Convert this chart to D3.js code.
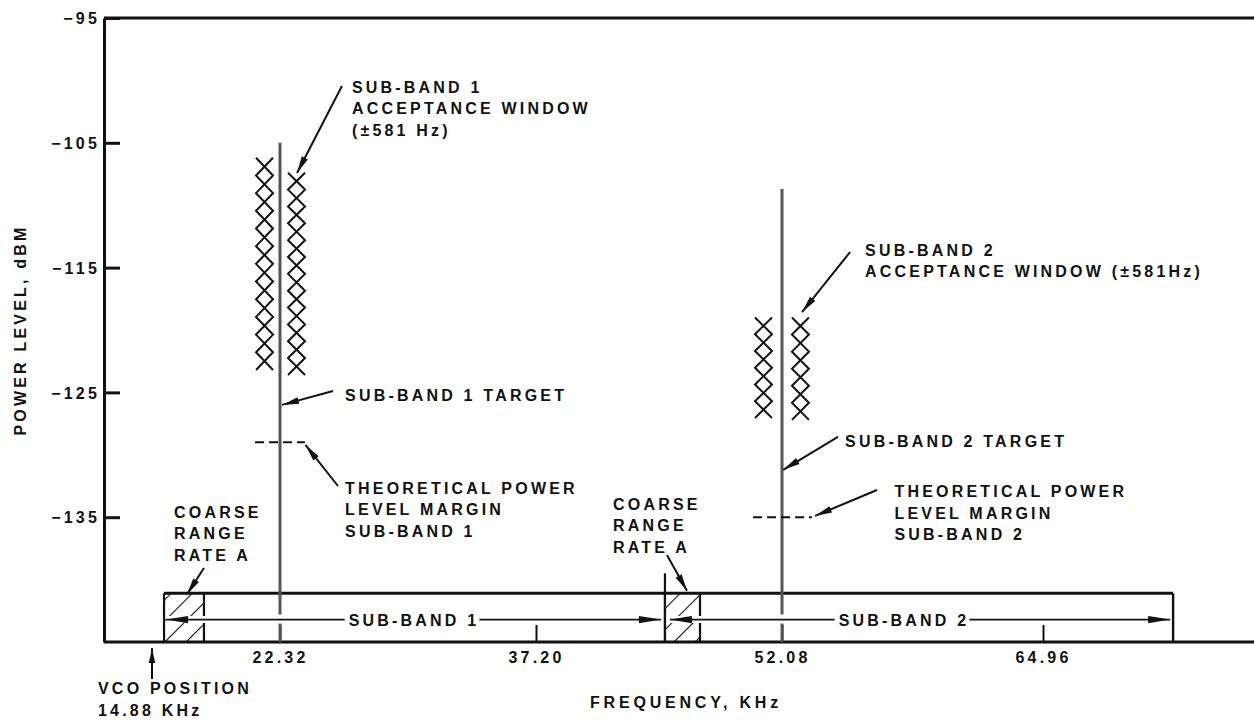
<!DOCTYPE html>
<html>
<head>
<meta charset="utf-8">
<script src="https://cdn.jsdelivr.net/npm/d3@7"></script>
<style>
  html, body { margin: 0; padding: 0; background: #fff; }
  text {
    font-family: "Liberation Sans", Arial, Helvetica, sans-serif;
    font-weight: bold;
    font-size: 16px;
    letter-spacing: 3.2px;
    fill: #111;
  }
</style>
</head>
<body>
<svg id="chart" width="1254" height="720"></svg>
<script>
// ---- Axis ticks ----
const freqTicks = [22.32, 37.20, 52.08, 64.96];     // KHz
const powerTicks = [-95, -105, -115, -125, -135];   // dBM
const vcoFreq = 14.88;

// ---- Sub-band strip along the frequency axis ----
const bandNames = ["SUB-BAND 1", "SUB-BAND 2"];
const bandStart = [15.58, 45.00];
const bandEnd = [45.00, 71.38];
const bandLabelAt = [30.11, 58.10];
const bandTop = -141.1;
const bandArrowLevel = -143.2;
const boundaryTop = -139.5;

// Coarse range rate A windows
const coarseStart = [15.58, 45.00];
const coarseEnd = [17.90, 47.12];

// ---- Carriers ----
const carrierFreq = [22.32, 52.08];
const carrierPeak = [-105.0, -108.7];
const targetLevel = [-126.0, -131.2];
const marginLevel = [-129.0, -135.0];
const marginLo = [20.87, 50.33];
const marginHi = [23.77, 53.56];

// Acceptance window (±581 Hz) columns, per sub-band: [left, right]
const windowFreq = [[21.42, 23.28], [50.96, 52.99]];
const windowTop = [[-106.2, -107.4], [-119.0, -119.0]];
const windowBottom = [[-123.2, -123.6], [-127.05, -127.2]];

// ---- Callouts: text lines, text anchor, arrow tail, arrow head (KHz, dBM) ----
const noteText = [
  ["SUB-BAND 1", "ACCEPTANCE WINDOW", "(\u00B1581 Hz)"],
  ["SUB-BAND 1 TARGET"],
  ["THEORETICAL POWER", "LEVEL MARGIN", "SUB-BAND 1"],
  ["SUB-BAND 2", "ACCEPTANCE WINDOW (\u00B1581Hz)"],
  ["SUB-BAND 2 TARGET"],
  ["THEORETICAL POWER", "LEVEL MARGIN", "SUB-BAND 2"],
  ["COARSE", "RANGE", "RATE A"],
  ["COARSE", "RANGE", "RATE A"]
];
const noteAt = [[26.50, -101.0], [26.10, -125.69], [26.10, -133.14], [56.18, -114.07],
                [55.19, -129.37], [57.63, -133.40], [16.16, -135.06], [41.86, -134.42]];
const noteTail = [[25.92, -100.45], [25.40, -124.89], [25.69, -132.50], [55.44, -113.75],
                  [54.84, -128.57], [56.77, -132.82], [17.90, -139.07], [45.12, -138.03]];
const noteHead = [[23.31, -107.42], [22.44, -126.0], [23.80, -129.21], [53.07, -118.56],
                  [52.14, -131.2], [53.71, -134.9], [16.91, -141.2], [46.33, -140.9]];

const axisTitleX = "FREQUENCY, KHz";
const axisTitleY = "POWER LEVEL, dBM";
const vcoText = ["VCO POSITION", "14.88 KHz"];

// ---- Layout ----
const W = 1254, H = 720;
const plot = { left: 104, right: 1254, top: 18, bottom: 642 };
const ink = "#111";

// Schematic frequency axis: piecewise-linear spacing between the marked frequencies
const x = d3.scaleLinear()
  .domain([vcoFreq, ...freqTicks])
  .range([152, 280, 536, 782, 1043]);
const y = d3.scaleLinear().domain([-145, -95]).range([plot.bottom, plot.top]);

const svg = d3.select("#chart");

// hatch pattern for the coarse windows
const defs = svg.append("defs");
defs.append("pattern")
  .attr("id", "hatch")
  .attr("patternUnits", "userSpaceOnUse")
  .attr("width", 15).attr("height", 15)
  .attr("patternTransform", "rotate(45)")
  .append("line")
  .attr("x1", 0).attr("y1", 0).attr("x2", 0).attr("y2", 15)
  .attr("stroke", ink).attr("stroke-width", 2.2);

function arrowHead(g, x1, y1, x2, y2, len = 15, hw = 3.4) {
  const a = Math.atan2(y2 - y1, x2 - x1);
  const bx = x2 - len * Math.cos(a), by = y2 - len * Math.sin(a);
  const px = -Math.sin(a) * hw, py = Math.cos(a) * hw;
  g.append("path")
    .attr("d", `M${x2},${y2}L${bx + px},${by + py}L${bx - px},${by - py}Z`)
    .attr("fill", ink);
}

// ---- Frame: top rule, left axis, baseline ----
svg.append("line")
  .attr("x1", plot.left).attr("x2", plot.right)
  .attr("y1", plot.top).attr("y2", plot.top)
  .attr("stroke", ink).attr("stroke-width", 3);
svg.append("line")
  .attr("x1", plot.left).attr("x2", plot.right)
  .attr("y1", plot.bottom).attr("y2", plot.bottom)
  .attr("stroke", ink).attr("stroke-width", 3);

const yAxis = svg.append("g")
  .attr("transform", `translate(${plot.left},0)`)
  .call(d3.axisLeft(y).tickValues(powerTicks).tickSize(-16).tickSizeOuter(0)
    .tickPadding(4).tickFormat(d3.format("d")));
yAxis.select(".domain").attr("stroke", ink).attr("stroke-width", 3);
yAxis.selectAll(".tick line").attr("stroke", ink).attr("stroke-width", 3);
yAxis.selectAll(".tick text").attr("font-size", null).attr("font-family", null)
  .attr("fill", ink).attr("dy", "0.36em");

const xAxis = svg.append("g")
  .attr("transform", `translate(0,${plot.bottom})`)
  .call(d3.axisBottom(x).tickValues(freqTicks).tickSize(-17).tickSizeOuter(0)
    .tickPadding(10).tickFormat(d3.format(".2f")));
xAxis.select(".domain").remove();
xAxis.selectAll(".tick line").attr("stroke", ink).attr("stroke-width", 2);
xAxis.selectAll(".tick text").attr("font-size", null).attr("font-family", null).attr("fill", ink);

// ---- Sub-band strip ----
const strip = svg.append("g");
coarseStart.forEach((f, i) => {
  strip.append("rect")
    .attr("x", x(f)).attr("y", y(bandTop))
    .attr("width", x(coarseEnd[i]) - x(f))
    .attr("height", y(-145) - y(bandTop))
    .attr("fill", "url(#hatch)");
  [f, coarseEnd[i]].forEach(e => {
    strip.append("line")
      .attr("x1", x(e)).attr("x2", x(e))
      .attr("y1", y(bandTop)).attr("y2", y(-145))
      .attr("stroke", ink).attr("stroke-width", 2.2);
  });
});
// top edge and right end of the strip
strip.append("line")
  .attr("x1", x(bandStart[0])).attr("x2", x(bandEnd[1]))
  .attr("y1", y(bandTop)).attr("y2", y(bandTop))
  .attr("stroke", ink).attr("stroke-width", 3);
strip.append("line")
  .attr("x1", x(bandEnd[1])).attr("x2", x(bandEnd[1]))
  .attr("y1", y(bandTop)).attr("y2", y(-145))
  .attr("stroke", ink).attr("stroke-width", 2.4);
// sub-band boundary marker
strip.append("line")
  .attr("x1", x(bandEnd[0])).attr("x2", x(bandEnd[0]))
  .attr("y1", y(boundaryTop)).attr("y2", y(-145))
  .attr("stroke", ink).attr("stroke-width", 2.2);

// ---- Carrier lines (broken where the sub-band arrows cross) ----
const carriers = svg.append("g");
const ay = y(bandArrowLevel);
carrierFreq.forEach((f, i) => {
  carriers.append("line")
    .attr("x1", x(f)).attr("x2", x(f))
    .attr("y1", y(carrierPeak[i])).attr("y2", ay - 5)
    .attr("stroke", "#555").attr("stroke-width", 3);
  carriers.append("line")
    .attr("x1", x(f)).attr("x2", x(f))
    .attr("y1", ay + 4).attr("y2", y(-145))
    .attr("stroke", "#555").attr("stroke-width", 3);
});

// ---- Sub-band span arrows ----
const spans = svg.append("g");
bandNames.forEach((name, i) => {
  const x1 = x(bandStart[i]) + (i === 0 ? 2 : 5);
  const x2 = x(bandEnd[i]) - (i === 0 ? 4 : 3);
  spans.append("line").attr("x1", x1).attr("x2", x2).attr("y1", ay).attr("y2", ay)
    .attr("stroke", "#fff").attr("stroke-width", 7);
  spans.append("line").attr("x1", x1).attr("x2", x2).attr("y1", ay).attr("y2", ay)
    .attr("stroke", ink).attr("stroke-width", 1.8);
  arrowHead(spans, x2 - 20, ay, x1, ay, 22, 3.6);
  arrowHead(spans, x1 + 20, ay, x2, ay, 22, 3.6);
  const t = spans.append("text").attr("x", x(bandLabelAt[i])).attr("y", ay + 6)
    .attr("text-anchor", "middle").text(name);
  const bb = t.node().getBBox();
  spans.insert("rect", () => t.node())
    .attr("x", bb.x - 4).attr("y", bb.y).attr("width", bb.width + 4).attr("height", bb.height)
    .attr("fill", "#fff");
});

// ---- Acceptance window columns (chains of crosses) ----
const windows = svg.append("g")
  .attr("fill", "none").attr("stroke", ink).attr("stroke-width", 2);
windowFreq.forEach((cols, b) => {
  cols.forEach((f, c) => {
    const cx = x(f), y0 = y(windowTop[b][c]), y1 = y(windowBottom[b][c]);
    const n = Math.round((y1 - y0) / 17.5), h = (y1 - y0) / n, w = 8.5;
    [1, -1].forEach(s => {
      const pts = d3.range(n + 1).map(k => [cx + (k % 2 ? s : -s) * w, y0 + k * h]);
      windows.append("path").attr("d", d3.line()(pts));
    });
  });
});

// ---- Theoretical power level margins ----
marginLevel.forEach((v, i) => {
  svg.append("line")
    .attr("x1", x(marginLo[i])).attr("x2", x(marginHi[i]))
    .attr("y1", y(v)).attr("y2", y(v))
    .attr("stroke", ink).attr("stroke-width", 2)
    .attr("stroke-dasharray", "9,5");
});

// ---- Callouts ----
const notes = svg.append("g");
noteText.forEach((lines, i) => {
  const [tf, tv] = noteTail[i], [hf, hv] = noteHead[i];
  notes.append("line")
    .attr("x1", x(tf)).attr("y1", y(tv)).attr("x2", x(hf)).attr("y2", y(hv))
    .attr("stroke", ink).attr("stroke-width", 2);
  arrowHead(notes, x(tf), y(tv), x(hf), y(hv), 17, 3.4);
  const t = notes.append("text").attr("x", x(noteAt[i][0])).attr("y", y(noteAt[i][1]));
  lines.forEach((s, k) => {
    t.append("tspan").attr("x", x(noteAt[i][0])).attr("dy", k === 0 ? 0 : 21.5).text(s);
  });
});

// ---- VCO position marker ----
const vx = x(vcoFreq);
svg.append("line").attr("x1", vx).attr("x2", vx)
  .attr("y1", plot.bottom + 37).attr("y2", plot.bottom + 6)
  .attr("stroke", ink).attr("stroke-width", 2);
arrowHead(svg, vx, plot.bottom + 37, vx, plot.bottom + 6, 15, 3.2);
const vt = svg.append("text").attr("x", vx - 54).attr("y", plot.bottom + 52);
vcoText.forEach((s, k) => vt.append("tspan").attr("x", vx - 54).attr("dy", k === 0 ? 0 : 21.5).text(s));

// ---- Axis titles ----
svg.append("text")
  .attr("x", 686).attr("y", 708)
  .attr("text-anchor", "middle").style("letter-spacing", "3.8px")
  .text(axisTitleX);
svg.append("text")
  .attr("transform", `translate(26,${(plot.top + plot.bottom) / 2}) rotate(-90)`)
  .attr("text-anchor", "middle")
  .text(axisTitleY);
</script>
</body>
</html>
